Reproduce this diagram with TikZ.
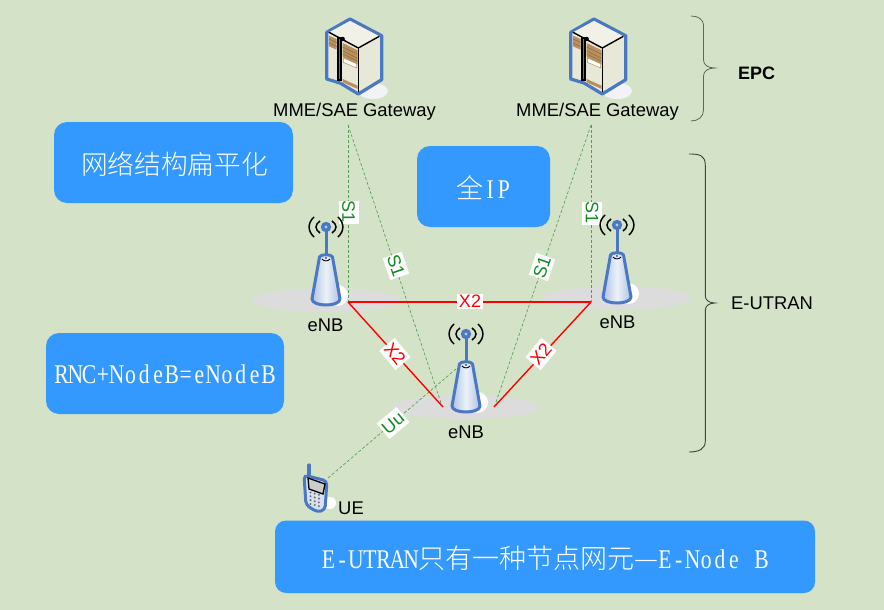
\documentclass[tikz,border=0pt]{standalone}
\usepackage{fontspec}
\setmainfont{Liberation Sans}
\newfontfamily\cjkface{Noto Sans CJK SC Light}
\newfontfamily\slimserif[FakeStretch=0.8]{Liberation Serif}
% one fixed-width cell per Latin letter
\def\cellrun#1{\cellstep#1\relax}
\def\cellstep#1{\ifx#1\relax\else\makebox[13.8pt]{\slimserif\fontsize{27}{27}\selectfont#1}\expandafter\cellstep\fi}
\definecolor{paper}{HTML}{D4E3C8}
\definecolor{panel}{HTML}{3399FF}
\definecolor{rim}{HTML}{4A78C2}
\definecolor{pad}{HTML}{DCDCDC}
\definecolor{linkgreen}{HTML}{4FA050}
\definecolor{tagtext}{HTML}{128A22}
\definecolor{wood}{HTML}{B98F5C}
\definecolor{shell}{HTML}{E8E8D8}
\tikzset{
  x=1pt,y=-1pt,
  airlink/.style={draw=linkgreen,dashed,dash pattern=on 3pt off 2pt,line width=.65pt},
  redlink/.style={draw=red,line width=1.4pt},
  tag/.style={fill=white,inner sep=0pt,font=\fontsize{18}{18}\selectfont,minimum width=23pt,minimum height=20pt},
  stag/.style={tag,text=tagtext},
  xtag/.style={tag,text=red},
  plain/.style={font=\fontsize{18.4}{18.4}\selectfont,text=black,inner sep=0pt},
  enbbase/.pic={
    \fill[pad] (0,73) ellipse [x radius=74pt,y radius=12pt];
    \fill[white] (11.5,68.5) circle [radius=10.5pt];
  },
  enbmast/.pic={
    \draw[rim,line width=3pt] (0,3) -- (0,29);
    \fill[rim] (0,0) circle [radius=5.2pt];
    \fill[rim!40] (0,0) circle [radius=1.7pt];
    \draw[black,line width=1.5pt] (-12,-10) .. controls (-18.5,-4) and (-18.5,4) .. (-12,10);
    \draw[black,line width=1.5pt] (12,-10) .. controls (18.5,-4) and (18.5,4) .. (12,10);
    \draw[black,line width=1.5pt] (-6,-6) .. controls (-11.3,-2.5) and (-11.3,2.5) .. (-6,6);
    \draw[black,line width=1.5pt] (6,-6) .. controls (11.3,-2.5) and (11.3,2.5) .. (6,6);
    \draw[rim,line width=3pt,line join=round,left color=rim!45,right color=rim!45,middle color=rim!10]
      (-6.5,30) .. controls (-6,27) and (6,27) .. (6.5,30) -- (14,72)
      .. controls (14,80) and (-14,80) .. (-14,72) -- cycle;
    \draw[black,line width=.9pt] (-4,32) .. controls (-2,34.5) and (2,34.5) .. (4,32);
    \fill[black] (0,31) circle [radius=.8pt];
  },
  cabinet/.pic={
    \fill[pad!70!rim!18] (23,72) ellipse [x radius=15pt,y radius=8pt];
    \filldraw[draw=rim,line width=3.2pt,line join=round,fill=shell]
      (0,0) -- (31.7,16.7) -- (31.7,60.7) -- (8.3,75) -- (-10,64) -- (-23.3,60) -- (-23.3,13.3) -- cycle;
    \fill[shell!60!white] (-21,13.3) -- (0,2) -- (29.3,17.3) -- (8.3,29) -- cycle;
    \fill[wood] (-21,16.7) -- (-13.3,20) -- (-13.3,30.7) -- (-21,27.3) -- cycle;
    \fill[wood] (-7.3,24) -- (7.7,31.3) -- (7.7,45.7) -- (-7.3,38) -- cycle;
    \fill[wood] (-7.3,60) -- (7.7,66.7) -- (7.7,70) -- (-7.3,63.3) -- cycle;
    \draw[wood!70!black,line width=.4pt] (-21,20) -- (-13.3,23.5) (-21,24) -- (-13.3,27.5)
      (-7.3,28) -- (7.7,35.3) (-7.3,32) -- (7.7,39.3) (-7.3,35) -- (7.7,42.3);
    \filldraw[fill=white,draw=wood,line width=.5pt] (-6.7,39) -- (6.7,44.7) -- (6.7,49) -- (-6.7,43.3) -- cycle;
    \draw[black,line width=1.4pt,line join=round] (-21,13.3) -- (8.3,29) -- (29.3,17.3);
    \draw[black,line width=1.3pt] (8.3,29) -- (8.3,73.5);
    \draw[black,line width=4.4pt] (-10.5,18) -- (-10.5,62);
    \draw[black!55,line width=1pt] (-10.5,20) -- (-10.5,60);
    \fill[black] (-7.3,20) circle [radius=2.2pt];
  },
  handset/.pic={
    \fill[white] (0,0) circle [radius=6pt];
  },
}
\begin{document}
\begin{tikzpicture}
\useasboundingbox (0,0) rectangle (884,610);
\fill[paper] (0,0) rectangle (884,610);

% cell-site footprints go under every link
\pic at (326,227) {enbbase};
\pic at (617,225) {enbbase};
\pic at (466,334) {enbbase};
\pic at (330,503) {handset};

% link end points
\coordinate (mmeA) at (348,125);
\coordinate (mmeB) at (591,125);
\coordinate (siteA) at (348,302);
\coordinate (siteB) at (591,302);
\coordinate (siteCl) at (443,407);
\coordinate (siteCr) at (494,407);
\coordinate (siteCs) at (441,403);
\coordinate (siteCt) at (495,405);
\coordinate (siteCu) at (456,369);
\coordinate (mobile) at (328,478);

\draw[airlink] (mmeA) -- (siteA);
\draw[airlink] (mmeA) -- (siteCs);
\draw[airlink] (mmeB) -- (siteB);
\draw[airlink] (mmeB) -- (siteCt);
\draw[airlink] (siteCu) -- (mobile);
\draw[redlink] (siteA) -- (siteB);
\draw[redlink] (siteA) -- (siteCl);
\draw[redlink] (siteB) -- (siteCr);

% interface tags on the links
\node[stag,rotate=-90] (tagS1a) at (348.5,212) {S1};
\node[stag,rotate=-71] (tagS1b) at (396,266) {S1};
\node[stag,rotate=71] (tagS1c) at (542,267) {S1};
\node[stag,rotate=-90] (tagS1d) at (592,213) {S1};
\node[xtag,minimum width=26pt,minimum height=15pt] (tagX2a) at (470,301) {X2};
\node[xtag,rotate=-50,minimum width=25pt] (tagX2b) at (395,354) {X2};
\node[xtag,rotate=50,minimum width=25pt] (tagX2c) at (541,354) {X2};
\node[stag,rotate=40,minimum width=26pt] (tagUu) at (393,423) {Uu};

% equipment
\pic at (350,19) {cabinet};
\pic at (594,19) {cabinet};
\pic at (326,227) {enbmast};
\pic at (617,225) {enbmast};
\pic at (466,334) {enbmast};

% handset
\draw[rim,line width=3.2pt,line cap=round] (309,465) -- (309,474);
\draw[rim,line width=3pt,fill=rim!22,rounded corners=4pt]
  (304,475) -- (327,481) -- (325,510) -- (317,512) -- (306,505) -- cycle;
\filldraw[fill=black!20,draw=black,line width=1.3pt] (308,478) -- (325,484) -- (323,494) -- (309,489) -- cycle;
\foreach \row in {0,1,2,3}{
  \foreach \col in {0,1,2}{
    \fill[black!55] ({310.5+\col*4.2},{492.5+\row*3.8+\col*1.1}) circle [radius=1.15pt];
  }
}

% labels
\node[plain] (mmeLabelA) at (354.5,111.5) {MME/SAE Gateway};
\node[plain] (mmeLabelB) at (597.5,111.5) {MME/SAE Gateway};
\node[plain,font=\fontsize{18}{18}\selectfont\bfseries] (epcLabel) at (756.5,73) {EPC};
\node[plain] (eutranLabel) at (772,303) {E-UTRAN};
\node[plain] (enbA) at (325.5,325) {eNB};
\node[plain] (enbB) at (617.5,322) {eNB};
\node[plain] (enbC) at (466,432) {eNB};
\node[plain] (ueLabel) at (351,508) {UE};

% braces
\draw[black!40!paper!75!black,line width=.8pt]
  (691,16) .. controls (698,16) and (703.5,19) .. (703.5,26) -- (703.5,60)
  .. controls (703.5,65) and (708,68) .. (715,68)
  .. controls (708,68) and (703.5,71) .. (703.5,76) -- (703.5,110)
  .. controls (703.5,117) and (698,121) .. (691,121);
\draw[black!70!paper,line width=.9pt]
  (689,154) .. controls (699,154) and (705.3,155) .. (705.3,165) -- (705.3,296)
  .. controls (705.3,300) and (709,303) .. (715,303)
  .. controls (709,303) and (705.3,306) .. (705.3,310) -- (705.3,441)
  .. controls (705.3,449) and (699,452) .. (689,452);

% call-out panels
\fill[panel,rounded corners=13pt] (54,122) rectangle (293,203);
\node[text=white,inner sep=0pt,font=\cjkface\fontsize{26.7}{27}\selectfont] (flat) at (174.5,164) {网络结构扁平化};
\fill[panel,rounded corners=13pt] (417,146) rectangle (550,227);
\node[text=white,inner sep=0pt,font=\cjkface\fontsize{27}{27}\selectfont] (allip) at (483.5,187.5) {全\cellrun{IP}};
\fill[panel,rounded corners=13pt] (46,333) rectangle (284,414);
\node[text=white,inner sep=0pt] (merge) at (165,374) {\cellrun{RNC+NodeB=eNodeB}};
\fill[panel,rounded corners=11pt] (275,520.5) rectangle (815,593);
\node[text=white,inner sep=0pt,font=\cjkface\fontsize{27}{27}\selectfont] (single) at (545,558) {\cellrun{E-UTRAN}只有一种节点网元—\cellrun{E-Node~B}};
\end{tikzpicture}
\end{document}
